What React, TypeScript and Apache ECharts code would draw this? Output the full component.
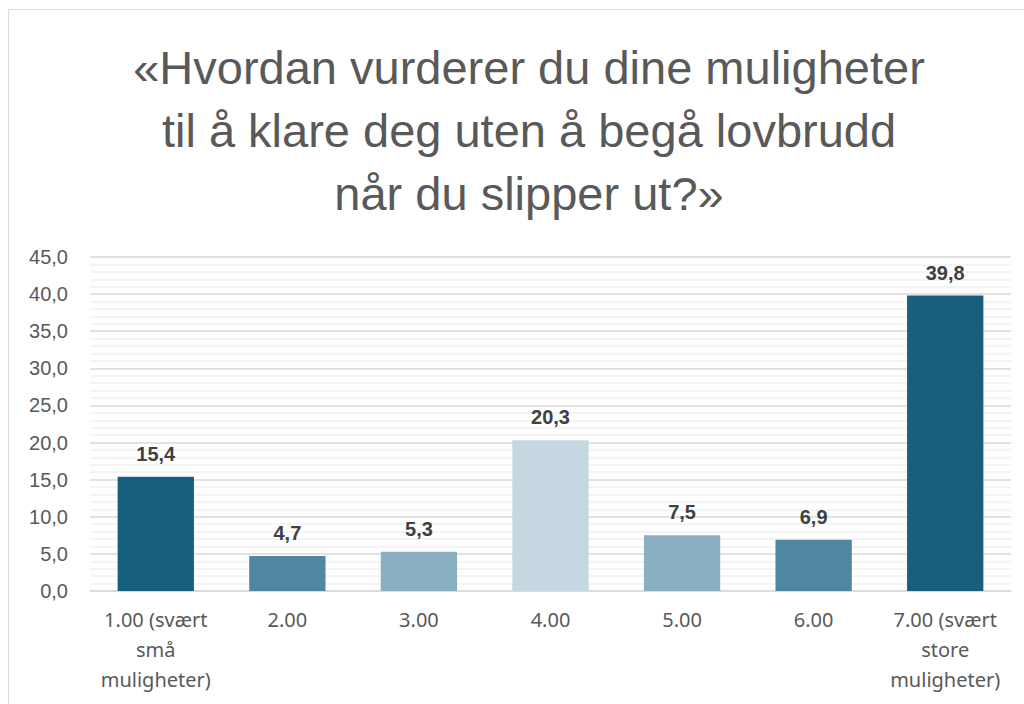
import React, { useEffect, useRef } from "react";
import * as echarts from "echarts";

const titleLines = [
  "«Hvordan vurderer du dine muligheter",
  "til å klare deg uten å begå lovbrudd",
  "når du slipper ut?»",
];
const categories = [
  "1.00 (svært\nsmå\nmuligheter)",
  "2.00",
  "3.00",
  "4.00",
  "5.00",
  "6.00",
  "7.00 (svært\nstore\nmuligheter)",
];
const values = [15.4, 4.7, 5.3, 20.3, 7.5, 6.9, 39.8];
const barColors = ["#175e7f", "#4f87a0", "#8aafc2", "#c5d8e2", "#8aafc2", "#4f87a0", "#175e7f"];
const yMin = 0;
const yMax = 45;
const yInterval = 5;

const fmt = (v: number) => v.toFixed(1).replace(".", ",");

export default function App() {
  const ref = useRef<HTMLDivElement>(null);
  useEffect(() => {
    if (!ref.current) return;
    const chart = echarts.init(ref.current, undefined, { renderer: "svg" });
    chart.setOption({
      animation: false,
      backgroundColor: "#ffffff",
      title: {
        text: titleLines.join("\n"),
        left: 524,
        top: 31,
        textAlign: "center",
        textStyle: {
          fontFamily: "Liberation Sans",
          fontSize: 47,
          lineHeight: 63,
          fontWeight: "normal",
          color: "#595959",
        },
      },
      graphic: [
        {
          type: "rect",
          shape: { x: 8.5, y: 9.5, width: 1100, height: 800 },
          style: { fill: "none", stroke: "#d9d9d9", lineWidth: 1 },
          silent: true,
        },
      ],
      grid: { left: 90, right: 13, top: 257, bottom: 113, containLabel: false },
      xAxis: {
        type: "category",
        data: categories,
        axisLine: { show: true, lineStyle: { color: "#d9d9d9", width: 1.5 } },
        axisTick: { show: false },
        axisLabel: {
          interval: 0,
          margin: 13,
          fontFamily: "Noto Sans",
          fontSize: 20,
          lineHeight: 30,
          color: "#595959",
        },
      },
      yAxis: {
        type: "value",
        min: yMin,
        max: yMax,
        interval: yInterval,
        axisLine: { show: false },
        axisTick: { show: false },
        splitLine: { show: true, lineStyle: { color: "#d9d9d9", width: 1.5 } },
        minorTick: { show: false, splitNumber: 5 },
        minorSplitLine: { show: true, lineStyle: { color: "#f0f0f0", width: 1.5 } },
        axisLabel: {
          margin: 22,
          fontFamily: "Liberation Sans",
          fontSize: 20,
          color: "#595959",
          formatter: (v: number) => fmt(v),
        },
      },
      series: [
        {
          type: "bar",
          data: values.map((v, i) => ({ value: v, itemStyle: { color: barColors[i] } })),
          barWidth: "58%",
          label: {
            show: true,
            position: "top",
            distance: 13,
            fontFamily: "Liberation Sans",
            fontSize: 20,
            fontWeight: "bold",
            color: "#404040",
            formatter: (p: any) => fmt(p.value),
          },
        },
      ],
    });
    return () => chart.dispose();
  }, []);
  return (
    <div
      ref={ref}
      style={{ position: "fixed", left: 0, top: 0, width: 1024, height: 704 }}
    />
  );
}
